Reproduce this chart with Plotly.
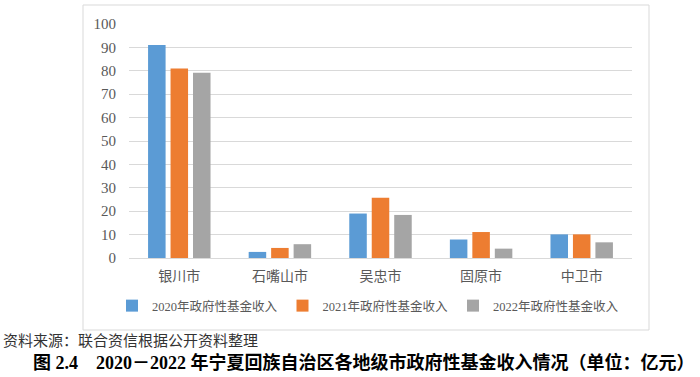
import plotly.graph_objects as go

cities = ["银川市", "石嘴山市", "吴忠市", "固原市", "中卫市"]
series_names = ["2020年政府性基金收入", "2021年政府性基金收入", "2022年政府性基金收入"]
v2020 = [91.0, 2.6, 19.0, 7.9, 10.1]
v2021 = [81.0, 4.3, 25.8, 11.1, 10.1]
v2022 = [79.2, 5.9, 18.4, 4.0, 6.7]
y_ticks = [0, 10, 20, 30, 40, 50, 60, 70, 80, 90, 100]
source_text = "资料来源：联合资信根据公开资料整理"
caption_text = "图 2.4　2020－2022 年宁夏回族自治区各地级市政府性基金收入情况（单位：亿元）"

colors = ["#5B9BD5", "#ED7D31", "#A5A5A5"]
serif = "Liberation Serif, Noto Sans CJK SC, serif"

fig = go.Figure()
for name, vals, c in zip(series_names, [v2020, v2021, v2022], colors):
    fig.add_trace(go.Bar(x=cities, y=vals, name=name, marker=dict(color=c, line=dict(width=0))))

W, H = 700, 377
L, R, T, B = 129, 68, 24, 119
pw, ph = W - L - R, H - T - B

def px(x):
    return (x - L) / pw

def py(y):
    return (H - B - y) / ph

fig.update_layout(
    width=W, height=H,
    margin=dict(l=L, r=R, t=T, b=B, autoexpand=False),
    paper_bgcolor="white", plot_bgcolor="white",
    barmode="group", bargap=0.33, bargroupgap=0.22,
    font=dict(family=serif, color="#595959", size=14),
    showlegend=True,
    legend=dict(orientation="h", x=px(112), xanchor="left", y=py(306), yanchor="middle",
                font=dict(size=12.5, color="#595959"), itemwidth=30, traceorder="normal",
                bgcolor="rgba(0,0,0,0)"),
    xaxis=dict(showgrid=False, showline=False, ticks="outside", ticklen=5,
               tickcolor="rgba(0,0,0,0)", tickfont=dict(size=14, color="#595959")),
    yaxis=dict(range=[0, 100], tickvals=y_ticks, showgrid=True, gridcolor="#D9D9D9",
               gridwidth=1, zeroline=True, zerolinecolor="#D9D9D9", zerolinewidth=1,
               ticks="outside", ticklen=9, tickcolor="rgba(0,0,0,0)",
               tickfont=dict(size=15, color="#595959")),
    shapes=[dict(type="rect", xref="paper", yref="paper",
                 x0=px(83), x1=px(649), y0=py(330), y1=py(5),
                 line=dict(color="#D9D9D9", width=1), fillcolor="rgba(0,0,0,0)", layer="below")],
    annotations=[
        dict(text=source_text, xref="paper", yref="paper", x=px(1), y=py(341),
             xanchor="left", yanchor="middle", showarrow=False,
             font=dict(size=15, color="#333333", family=serif)),
        dict(text="<b>" + caption_text + "</b>", xref="paper", yref="paper", x=px(364), y=py(362),
             xanchor="center", yanchor="middle", showarrow=False,
             font=dict(size=18, color="#000000", family=serif)),
    ],
)

fig.write_html("out.html", config={"displayModeBar": False},
               post_script="document.body.style.margin='0';document.body.style.padding='0';")
